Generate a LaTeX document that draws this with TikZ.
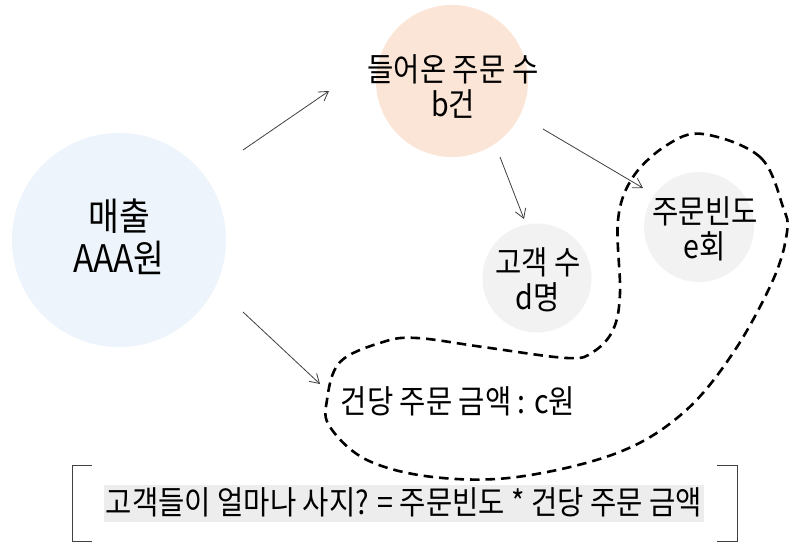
\documentclass[tikz,border=0pt]{standalone}
\usepackage{fontspec}
\setmainfont{Noto Sans CJK KR}[FakeStretch=0.88]
\usetikzlibrary{arrows.meta}
\definecolor{bluec}{HTML}{EDF4FB}
\definecolor{peach}{HTML}{FBE5D6}
\definecolor{grayc}{HTML}{F2F2F2}
\definecolor{hl}{HTML}{EDEDED}
\definecolor{arr}{HTML}{404040}
\tikzset{
  bubble/.style={circle, inner sep=0pt},
  label text/.style={inner sep=0pt, align=center, font=\fontsize{32.5}{35}\selectfont},
  link/.style={draw=arr, line width=0.8pt, -{Straight Barb[length=9pt,width=11pt,line width=0.8pt]}},
  blob/.style={draw=black, line width=2.6pt, dash pattern=on 9.5pt off 6pt},
  brk/.style={draw=black!75, line width=0.9pt}
}
\begin{document}
\begin{tikzpicture}[x=1pt,y=-1pt]
\useasboundingbox (0,0) rectangle (802,550);
\fill[white] (0,0) rectangle (802,550);
\node[bubble, fill=bluec, minimum size=214pt] (sales) at (119,240) {};
\node[bubble, fill=peach, minimum size=152pt] (orders) at (452,81) {};
\node[bubble, fill=grayc, minimum size=109pt] (cust) at (537,278) {};
\node[bubble, fill=grayc, minimum size=110pt] (freq) at (699,227) {};
\node[label text, font=\fontsize{38}{42}\selectfont] (salest) at (119,237) {매출\\AAA원};
\node[label text] (orderst) at (453,86) {들어온 주문 수\\b건};
\node[label text] (custt) at (538,280) {고객 수\\d명};
\node[label text] (freqt) at (705,229) {주문빈도\\e회};
\draw[blob] plot[smooth cycle, tension=0.6] coordinates {
 (703,134) (760,157) (783,207) (787,232) (773,280) (733,353) (683,413)
 (617,453) (517,477) (433,477) (367,460) (330,427) (327,400) (340,362)
 (383,342) (417,338) (483,347) (567,358) (593,352) (613,330) (620,293)
 (618,220) (633,177) (667,145)};
\node[label text] (amount) at (458,401) {건당 주문 금액 : c원};
\coordinate (a1s) at (243,150); \coordinate (a1e) at (329,91);
\coordinate (a2s) at (243,312); \coordinate (a2e) at (320,384);
\coordinate (a3s) at (500,157); \coordinate (a3e) at (524,219);
\coordinate (a4s) at (543,129); \coordinate (a4e) at (643,188);
\draw[link] (a1s) -- (a1e);
\draw[link] (a2s) -- (a2e);
\draw[link] (a3s) -- (a3e);
\draw[link] (a4s) -- (a4e);
\node[fill=hl, inner xsep=1.5pt, inner ysep=0pt, text height=29pt, text depth=8pt, font=\fontsize{32.5}{36}\selectfont] (q) at (404,503.5) {고객들이 얼마나 사지? = 주문빈도 * 건당 주문 금액};
\coordinate (lbt) at (92,465); \coordinate (lbb) at (92,541);
\coordinate (rbt) at (717,465); \coordinate (rbb) at (717,541);
\draw[brk] (lbt) -| (72,541) -- (lbb);
\draw[brk] (rbt) -| (737,541) -- (rbb);
\end{tikzpicture}
\end{document}
